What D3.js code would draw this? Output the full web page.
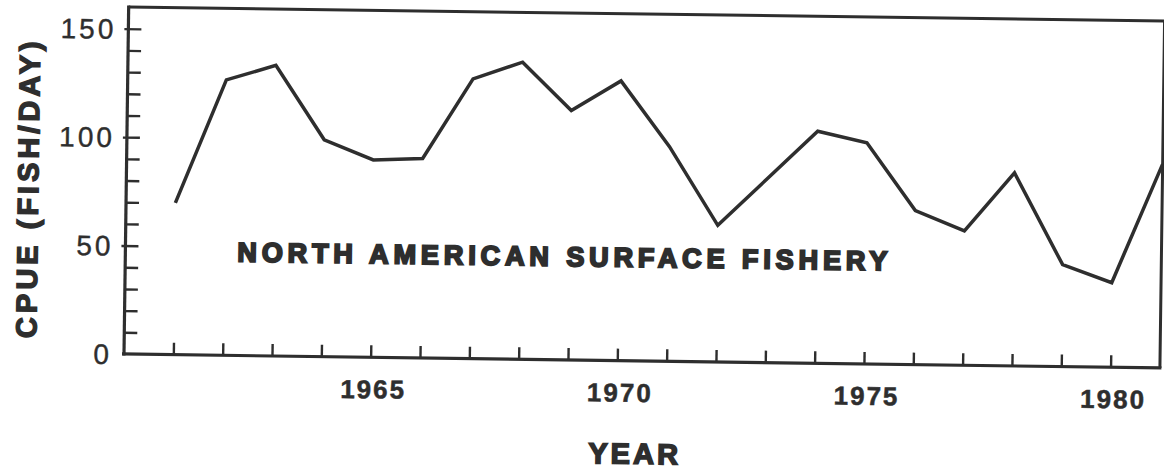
<!DOCTYPE html>
<html>
<head>
<meta charset="utf-8">
<script src="https://cdn.jsdelivr.net/npm/d3@7"></script>
<style>
  body { margin: 0; background: #fff; }
  text { font-family: "Liberation Sans", Arial, sans-serif; fill: #2e2e2e; }
</style>
</head>
<body>
<svg></svg>
<script>
var width = 1164;
var height = 470;

// CPUE, one value per year
var years = [1961, 1962, 1963, 1964, 1965, 1966, 1967, 1968, 1969, 1970,
             1971, 1972, 1973, 1974, 1975, 1976, 1977, 1978, 1979, 1980, 1981];
var cpue = [70, 127, 134, 100, 91, 92, 129, 137, 115, 129,
            99, 63, 85, 107, 102, 71, 62, 89, 47, 39, 94];
var yearLabels = [1965, 1970, 1975, 1980];
var cpueLabels = [0, 50, 100, 150];

var data = years.map((y, i) => ({year: y, value: cpue[i]}));

// plot box (window.top is read-only, hence the longer names)
var plotLeft = 124, plotRight = 1160, plotTop = 7, plotBottom = 354;
var ink = "#2e2e2e";

var xScale = d3.scaleLinear()
                .domain([1960, 1981])
                .range([plotLeft, plotRight]);

var yScale = d3.scaleLinear()
                .domain([0, 160])
                .range([plotBottom, plotTop]);

var svg = d3.select("svg")
            .attr("width", width)
            .attr("height", height);

// the scan is tilted a little, so the whole figure is turned with it
var g = svg.append("g")
            .attr("transform", "rotate(0.77," + plotLeft + "," + plotBottom + ")");

// frame: top and right edges
g.append("path")
    .attr("d", "M" + plotLeft + "," + plotTop + "H" + plotRight + "V" + plotBottom)
    .attr("fill", "none")
    .attr("stroke", ink)
    .attr("stroke-width", 3);

// x axis, yearly ticks pointing inwards
var xAxis = d3.axisBottom(xScale)
                .tickValues(d3.range(1961, 1981))
                .tickSize(-12)
                .tickSizeOuter(0)
                .tickFormat("");

var gx = g.append("g")
            .attr("transform", "translate(0," + plotBottom + ")")
            .call(xAxis);

gx.select(".domain")
    .attr("stroke", ink)
    .attr("stroke-width", 3.2)
    .attr("d", "M" + (plotLeft - 2) + ",0H" + (plotRight + 1.5));
gx.selectAll(".tick line")
    .attr("stroke", ink)
    .attr("stroke-width", 2.4);

g.selectAll(".year-label")
    .data(yearLabels)
    .enter()
    .append("text")
      .classed("year-label", true)
      .attr("x", d => xScale(d) + 3)
      .attr("y", plotBottom + 41)
      .attr("text-anchor", "middle")
      .attr("font-size", 26)
      .attr("font-weight", "bold")
      .attr("stroke", ink)
      .attr("stroke-width", 0.5)
      .attr("letter-spacing", 2)
      .text(d => d);

// y axis, minor ticks every 10, majors poke out a little
var yAxis = d3.axisLeft(yScale)
                .tickValues(d3.range(10, 160, 10))
                .tickSize(-13)
                .tickSizeOuter(0)
                .tickFormat("");

var gy = g.append("g")
            .attr("transform", "translate(" + plotLeft + ",0)")
            .call(yAxis);

gy.select(".domain")
    .attr("stroke", ink)
    .attr("stroke-width", 3.2)
    .attr("d", "M0," + (plotBottom + 1.5) + "V" + (plotTop - 1.5));
gy.selectAll(".tick line")
    .attr("stroke", ink)
    .attr("stroke-width", 2.4)
    .attr("x1", d => d % 50 === 0 ? -4 : 0);

g.selectAll(".cpue-label")
    .data(cpueLabels)
    .enter()
    .append("text")
      .classed("cpue-label", true)
      .attr("x", plotLeft - 12)
      .attr("y", d => yScale(d))
      .attr("dy", "0.36em")
      .attr("text-anchor", "end")
      .attr("font-size", 28)
      .attr("stroke", ink)
      .attr("stroke-width", 0.4)
      .attr("letter-spacing", 3)
      .text(d => d);

// the series
var line = d3.line()
                .x(d => xScale(d.year))
                .y(d => yScale(d.value));

g.append("path")
    .datum(data)
    .attr("d", line)
    .attr("fill", "none")
    .attr("stroke", ink)
    .attr("stroke-width", 3.5)
    .attr("stroke-linejoin", "miter");

// captions
g.append("text")
    .attr("x", 236)
    .attr("y", 260)
    .attr("font-size", 27)
    .attr("font-weight", "bold")
    .attr("stroke", ink)
    .attr("stroke-width", 2)
    .attr("textLength", 650)
    .attr("lengthAdjust", "spacing")
    .text("NORTH AMERICAN SURFACE FISHERY");

g.append("text")
    .attr("x", 636)
    .attr("y", 457)
    .attr("text-anchor", "middle")
    .attr("font-size", 29)
    .attr("font-weight", "bold")
    .attr("stroke", ink)
    .attr("stroke-width", 1.6)
    .attr("letter-spacing", 3)
    .text("YEAR");

g.append("text")
    .attr("transform", "translate(36,189) rotate(-90)")
    .attr("text-anchor", "middle")
    .attr("font-size", 29)
    .attr("font-weight", "bold")
    .attr("stroke", ink)
    .attr("stroke-width", 1.4)
    .attr("letter-spacing", 4)
    .text("CPUE (FISH/DAY)");
</script>
</body>
</html>
